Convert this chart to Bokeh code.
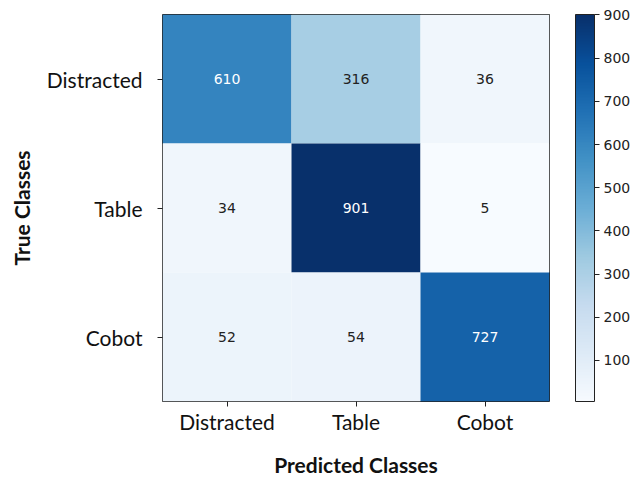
from bokeh.plotting import figure
from bokeh.models import ColumnDataSource, LinearColorMapper, ColorBar, FixedTicker
from bokeh.transform import transform
from bokeh.core.properties import value
from bokeh.embed import file_html
from bokeh.resources import INLINE
from bokeh.palettes import Blues9

try:
    from bokeh.palettes import interp_palette
    palette = list(interp_palette(tuple(Blues9[::-1]), 256))
except Exception:
    palette = list(Blues9[::-1])

# ---- data ----
classes = ["Distracted", "Table", "Cobot"]
true_labels = ["Distracted", "Distracted", "Distracted",
               "Table", "Table", "Table",
               "Cobot", "Cobot", "Cobot"]
pred_labels = ["Distracted", "Table", "Cobot",
               "Distracted", "Table", "Cobot",
               "Distracted", "Table", "Cobot"]
counts = [610, 316, 36,
          34, 901, 5,
          52, 54, 727]
colorbar_ticks = [100, 200, 300, 400, 500, 600, 700, 800, 900]

vmin, vmax = min(counts), max(counts)
thresh = vmax / 2.0
text_colors = ["white" if c > thresh else "#222222" for c in counts]

source = ColumnDataSource(dict(
    true=true_labels, pred=pred_labels, count=counts,
    label=[str(c) for c in counts], tcolor=text_colors,
))

mapper = LinearColorMapper(palette=palette, low=vmin, high=vmax)

p = figure(
    width=633, height=479,
    x_range=classes, y_range=list(reversed(classes)),
    output_backend="svg", toolbar_location=None, tools="",
    min_border_left=162, min_border_top=14, min_border_right=84, min_border_bottom=78,
)
p.x_range.range_padding = 0
p.y_range.range_padding = 0

p.rect(x="pred", y="true", width=1, height=1, source=source,
       fill_color=transform("count", mapper), line_color=None)
p.text(x="pred", y="true", text="label", source=source,
       text_color="tcolor", text_align="center", text_baseline="middle",
       text_font=value("DejaVu Sans"), text_font_size="14px")

p.grid.visible = False
p.outline_line_color = "#222222"
p.outline_line_width = 1
p.outline_line_alpha = 1

for ax in (p.xaxis[0], p.yaxis[0]):
    ax.axis_line_color = None
    ax.major_tick_in = 0
    ax.major_tick_out = 5
    ax.major_tick_line_color = "#222222"
    ax.minor_tick_line_color = None
    ax.major_label_text_font = "Lato"
    ax.major_label_text_font_size = "21px"
    ax.major_label_text_color = "#111111"
    ax.axis_label_text_font = "Lato"
    ax.axis_label_text_font_style = "bold"
    ax.axis_label_text_font_size = "21px"
    ax.axis_label_text_color = "#111111"

p.xaxis.axis_label = "Predicted Classes"
p.yaxis.axis_label = "True Classes"
p.xaxis.major_label_standoff = 2
p.xaxis.axis_label_standoff = 15
p.yaxis.major_label_standoff = 15
p.yaxis.axis_label_standoff = 10

cb = ColorBar(
    color_mapper=mapper, ticker=FixedTicker(ticks=colorbar_ticks),
    width=19, padding=0, margin=0, location=(26, 0),
    bar_line_color="#222222", bar_line_width=1,
    major_tick_in=0, major_tick_out=5, major_tick_line_color="#222222",
    minor_tick_line_color=None,
    major_label_text_font="DejaVu Sans", major_label_text_font_size="14px",
    major_label_text_color="#222222", label_standoff=4,
    background_fill_alpha=0, border_line_color=None,
)
p.add_layout(cb, "right")

open("out.html", "w").write(file_html(p, INLINE))
